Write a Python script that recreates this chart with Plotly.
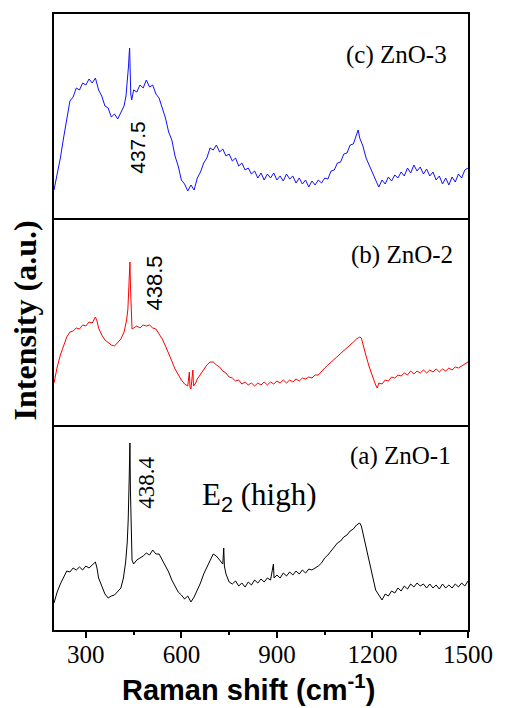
import plotly.graph_objects as go
from plotly.subplots import make_subplots

# Raman spectra of the three ZnO samples (intensity in arbitrary units)

# (c) ZnO-3
wn_c = [200, 205, 210, 220, 230, 240, 250, 260, 270, 280, 290, 300, 310, 320, 330, 340,
        350, 360, 370, 380, 390, 400, 410, 420, 426, 431, 434, 436, 437.5, 439, 441, 444,
        450, 460, 470, 480, 490, 500, 510, 520, 530, 540, 550, 560, 570, 580, 590, 600,
        610, 620, 630, 640, 650, 660, 670, 680, 690, 700, 710, 720, 730, 740, 750, 760,
        770, 780, 790, 800, 810, 820, 830, 840, 850, 860, 870, 880, 890, 900, 910, 920,
        930, 940, 950, 960, 970, 980, 990, 1000, 1010, 1020, 1030, 1040, 1050, 1060, 1070,
        1080, 1090, 1100, 1110, 1120, 1130, 1140, 1150, 1155, 1160, 1170, 1180, 1190, 1200,
        1210, 1220, 1230, 1240, 1250, 1260, 1270, 1280, 1290, 1300, 1310, 1320, 1330, 1340,
        1350, 1360, 1370, 1380, 1390, 1400, 1410, 1420, 1430, 1440, 1450, 1460, 1470, 1480,
        1490, 1500]
int_c = [28, 36, 45, 60, 80, 98, 117, 121, 130, 128, 135, 133, 139, 135, 140, 128,
         122, 112, 110, 101, 104, 99, 106, 112, 122, 138, 152, 164, 170, 150, 124, 118,
         128, 126, 133, 130, 138, 131, 133, 124, 120, 110, 100, 86, 78, 62, 52, 38,
         34, 27, 33, 28, 40, 46, 55, 60, 70, 68, 73, 66, 69, 62, 64, 57,
         60, 52, 55, 48, 50, 44, 47, 40, 45, 38, 44, 40, 45, 38, 42, 37,
         44, 39, 42, 35, 40, 34, 38, 31, 37, 33, 38, 35, 40, 39, 47,
         48, 55, 56, 64, 65, 73, 74, 82, 88, 80, 72, 60, 52, 44,
         38, 31, 38, 34, 41, 37, 43, 40, 46, 42, 50, 45, 53, 47,
         51, 44, 49, 42, 46, 38, 42, 34, 40, 33, 41, 36, 44, 40,
         48, 50]

# (b) ZnO-2
wn_b = [200, 205, 210, 220, 230, 240, 250, 260, 270, 280, 290, 300, 310, 320, 330, 335,
        340, 350, 360, 370, 380, 390, 400, 410, 420, 428, 432, 435, 437, 438.5, 440, 442,
        445, 450, 460, 470, 480, 490, 500, 510, 520, 530, 540, 550, 560, 570, 580, 590,
        600, 610, 620, 625, 627, 630, 636, 638, 645, 650, 660, 670, 680, 690, 700, 710,
        720, 730, 740, 750, 760, 770, 780, 790, 800, 810, 820, 830, 840, 850, 860, 870,
        880, 890, 900, 910, 920, 930, 940, 950, 960, 970, 980, 990, 1000, 1010, 1020, 1030,
        1040, 1050, 1060, 1070, 1080, 1090, 1100, 1110, 1120, 1130, 1140, 1150, 1160, 1165,
        1170, 1180, 1190, 1200, 1210, 1215, 1220, 1230, 1240, 1250, 1260, 1270, 1280, 1290,
        1300, 1310, 1320, 1330, 1340, 1350, 1360, 1370, 1380, 1390, 1400, 1410, 1420, 1430,
        1440, 1450, 1460, 1470, 1480, 1490, 1500]
int_b = [42, 50, 58, 70, 80, 88, 93, 94, 97, 96, 100, 99, 103, 102, 108, 104,
         97, 90, 85, 82, 80, 79, 82, 86, 93, 105, 116, 135, 155, 163, 140, 110,
         96, 97, 99, 97, 100, 99, 100, 97, 96, 91, 86, 79, 72, 64, 56, 50,
         45, 41, 39, 53, 38, 36, 55, 39, 42, 46, 51, 56, 60, 63, 63, 60,
         58, 54, 52, 48, 47, 44, 45, 41, 43, 40, 42, 39, 42, 40, 43, 40,
         43, 41, 44, 42, 45, 42, 45, 43, 46, 44, 47, 46, 48, 47, 50, 50,
         54, 57, 60, 63, 66, 69, 72, 75, 78, 80, 83, 86, 88, 87,
         80, 69, 58, 48, 40, 37, 42, 41, 45, 44, 48, 47, 50, 49,
         52, 50, 54, 51, 54, 52, 55, 52, 55, 53, 56, 53, 56, 54,
         57, 55, 58, 57, 59, 61, 63]

# (a) ZnO-1
wn_a = [200, 205, 210, 220, 230, 240, 250, 260, 270, 280, 290, 300, 310, 320, 330, 335,
        340, 350, 360, 370, 380, 390, 400, 410, 418, 425, 430, 433, 436, 438.4, 440, 442,
        445, 450, 460, 470, 480, 490, 500, 510, 520, 530, 540, 550, 560, 570, 580, 590,
        600, 610, 620, 630, 640, 650, 660, 670, 680, 690, 700, 710, 720, 730, 733, 735,
        740, 750, 760, 770, 780, 790, 800, 810, 820, 830, 840, 850, 860, 870, 880, 889,
        891, 900, 910, 920, 930, 940, 950, 960, 970, 980, 990, 1000, 1010, 1020, 1030,
        1040, 1050, 1060, 1070, 1080, 1090, 1100, 1110, 1120, 1130, 1140, 1150, 1160, 1165,
        1170, 1180, 1190, 1200, 1210, 1220, 1230, 1240, 1250, 1260, 1270, 1280, 1290, 1300,
        1310, 1320, 1330, 1340, 1350, 1360, 1370, 1380, 1390, 1400, 1410, 1420, 1430, 1440,
        1450, 1460, 1470, 1480, 1490, 1500]
int_a = [27, 33, 38, 46, 53, 59, 58, 62, 60, 63, 60, 64, 62, 65, 68, 62,
         52, 44, 36, 32, 34, 35, 38, 42, 52, 68, 88, 110, 150, 187, 140, 95,
         70, 66, 70, 72, 74, 77, 75, 80, 76, 76, 70, 64, 58, 50, 44, 38,
         35, 31, 34, 28, 33, 40, 47, 56, 63, 70, 76, 74, 70, 66, 82, 64,
         56, 48, 46, 49, 44, 47, 43, 48, 45, 50, 47, 51, 48, 52, 50, 66,
         52, 55, 52, 57, 54, 58, 55, 59, 56, 60, 57, 61, 60, 62, 64,
         67, 72, 75, 79, 82, 87, 89, 93, 95, 99, 101, 105, 107, 104,
         97, 82, 68, 54, 40, 35, 30, 36, 34, 39, 37, 42, 39, 44,
         41, 46, 43, 47, 44, 46, 42, 46, 42, 45, 41, 46, 42, 45,
         42, 46, 43, 47, 44, 49]

sample_labels = ["(c) ZnO-3", "(b) ZnO-2", "(a) ZnO-1"]
peak_labels = ["437.5", "438.5", "438.4"]
major_ticks = [300, 600, 900, 1200, 1500]
minor_ticks = [450, 750, 1050, 1350]

W, H = 505, 708
L, R, T, B = 54, 31, 14, 78
pw, ph = W - L - R, H - T - B


def px(x):
    return (x - L) / pw


def py(y):
    return (H - B - y) / ph


fig = make_subplots(rows=3, cols=1, shared_xaxes=True, vertical_spacing=0)

series = [(wn_c, int_c, "#1010ff"), (wn_b, int_b, "#ff0000"), (wn_a, int_a, "#000000")]
for i, (xs, ys, col) in enumerate(series, start=1):
    fig.add_trace(go.Scatter(x=xs, y=ys, mode="lines",
                             line=dict(color=col, width=1), showlegend=False),
                  row=i, col=1)

# panel frames: top panel closes its own top edge, each panel draws its bottom edge once
domains = [[py(218), 1.0], [py(425), py(218)], [0.0, py(425)]]
yranges = [[0, 204], [0, 207], [0, 205]]
for i in range(3):
    ax = "yaxis" if i == 0 else f"yaxis{i + 1}"
    fig.layout[ax].update(domain=domains[i], range=yranges[i], showticklabels=False,
                          ticks="", showgrid=False, zeroline=False, showline=True,
                          linecolor="black", linewidth=2, mirror=True)
    xa = "xaxis" if i == 0 else f"xaxis{i + 1}"
    fig.layout[xa].update(range=[200, 1500], showgrid=False, zeroline=False,
                          showline=True, linecolor="black", linewidth=2,
                          mirror=(i == 0), ticks="", showticklabels=False)

fig.update_layout(xaxis3=dict(
    ticks="outside", tickvals=major_ticks, ticktext=[str(v) for v in major_ticks],
    ticklen=6, tickwidth=1.5, tickcolor="black", showticklabels=True,
    ticklabelstandoff=-5,
    tickfont=dict(family="Liberation Serif", size=25, color="black"),
    minor=dict(tickvals=minor_ticks, ticks="outside", ticklen=3, tickwidth=1.5,
               tickcolor="black")))

ann = []
label_pos = [(455, 55), (461, 255), (459, 456)]
for text, (x, y) in zip(sample_labels, label_pos):
    ann.append(dict(text=text, x=px(x), y=py(y), xref="paper", yref="paper",
                    xanchor="right", yanchor="middle", showarrow=False,
                    font=dict(family="Liberation Serif", size=25, color="black")))

peak_pos = [(138, 147, "Liberation Sans", 21), (155, 283, "Liberation Sans", 22),
            (147, 483, "Liberation Serif", 23)]
for text, (x, y, fam, sz) in zip(peak_labels, peak_pos):
    ann.append(dict(text=text, x=px(x), y=py(y), xref="paper", yref="paper",
                    xanchor="center", yanchor="middle", showarrow=False, textangle=-90,
                    font=dict(family=fam, size=sz, color="black")))

ann.append(dict(text="E<sub><span style='font-family:Liberation Sans'>2</span></sub> (high)",
                x=px(202), y=py(497), xref="paper", yref="paper",
                xanchor="left", yanchor="middle", showarrow=False,
                font=dict(family="Liberation Serif", size=31, color="black")))

ann.append(dict(text="<b>Raman shift (cm<sup>-1</sup>)</b>", x=px(251), y=py(688),
                xref="paper", yref="paper", xanchor="center", yanchor="middle",
                showarrow=False,
                font=dict(family="Liberation Sans", size=29, color="black")))

ann.append(dict(text="<b>Intensity (a.u.)</b>", x=px(25), y=py(320),
                xref="paper", yref="paper", xanchor="center", yanchor="middle",
                showarrow=False, textangle=-90,
                font=dict(family="Liberation Serif", size=32, color="black")))

fig.update_layout(width=W, height=H, margin=dict(l=L, r=R, t=T, b=B),
                  paper_bgcolor="white", plot_bgcolor="white", annotations=ann)

fig.write_html("out.html")
